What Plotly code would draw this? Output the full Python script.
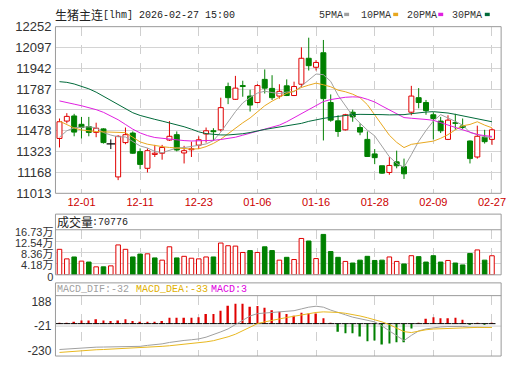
import plotly.graph_objects as go

W, H = 520, 365
RED = "#e00000"
GREEN = "#008000"

# ---------------- data ----------------
x_tick_idx = [3, 11, 19, 27, 35, 43, 51, 59]
x_tick_labels = ["12-01", "12-11", "12-23", "01-06", "01-16", "01-28", "02-09", "02-27"]

open_ = [11421, 11550, 11588, 11526, 11509, 11466, 11492, 11380, 11135, 11390,
         11461, 11323, 11199, 11302, 11311, 11409, 11449, 11313, 11337, 11371,
         11454, 11478, 11485, 11807, 11712, 11814, 11736, 11688, 11860, 11793,
         11736, 11812, 11740, 11824, 12017, 11950, 12058, 11688, 11552, 11485,
         11616, 11502, 11414, 11306, 11218, 11168, 11247, 11211, 11616, 11724,
         11688, 11597, 11550, 11414, 11538, 11514, 11402, 11283, 11430, 11414]
close = [11545, 11585, 11468, 11502, 11466, 11497, 11390, 11380, 11437, 11449,
         11311, 11228, 11330, 11311, 11354, 11437, 11335, 11330, 11344, 11411,
         11478, 11471, 11650, 11724, 11795, 11807, 11669, 11814, 11795, 11724,
         11771, 11740, 11807, 12017, 11962, 11986, 11717, 11557, 11473, 11597,
         11581, 11468, 11287, 11278, 11163, 11220, 11218, 11158, 11736, 11688,
         11628, 11569, 11478, 11557, 11533, 11502, 11271, 11437, 11397, 11485]
high = [11569, 11609, 11604, 11581, 11581, 11538, 11497, 11414, 11445, 11502,
        11473, 11347, 11347, 11373, 11373, 11550, 11473, 11366, 11397, 11437,
        11502, 11497, 11724, 11836, 11886, 11850, 11783, 11824, 11934, 11891,
        11824, 11860, 11843, 12098, 12170, 12003, 12153, 11748, 11593, 11604,
        11635, 11533, 11473, 11342, 11218, 11282, 11330, 11271, 11812, 11795,
        11707, 11616, 11581, 11593, 11604, 11569, 11406, 11516, 11485, 11497]
low = [11354, 11533, 11437, 11421, 11437, 11430, 11383, 11342, 11111, 11378,
       11306, 11192, 11168, 11283, 11263, 11402, 11325, 11235, 11283, 11342,
       11390, 11402, 11473, 11676, 11707, 11731, 11621, 11683, 11755, 11707,
       11717, 11736, 11736, 11800, 11926, 11926, 11406, 11545, 11433, 11480,
       11545, 11445, 11283, 11230, 11158, 11151, 11199, 11120, 11593, 11645,
       11597, 11414, 11461, 11409, 11485, 11492, 11235, 11271, 11383, 11373]

ma5 = [11430, 11478, 11500, 11505, 11508, 11500, 11465, 11446, 11433, 11432,
       11400, 11365, 11350, 11325, 11315, 11335, 11350, 11353, 11360, 11370,
       11380, 11405, 11468, 11545, 11620, 11685, 11725, 11758, 11772, 11762,
       11755, 11766, 11768, 11810, 11858, 11900, 11895, 11845, 11742, 11665,
       11588, 11535, 11482, 11440, 11358, 11285, 11235, 11207, 11300, 11400,
       11480, 11550, 11598, 11575, 11548, 11520, 11465, 11450, 11432, 11430]
ma10 = [11550, 11522, 11498, 11484, 11476, 11472, 11470, 11468, 11468, 11464,
        11430, 11395, 11378, 11368, 11360, 11354, 11349, 11345, 11342, 11344,
        11360, 11384, 11415, 11456, 11500, 11537, 11573, 11618, 11664, 11698,
        11730, 11756, 11773, 11800, 11817, 11832, 11820, 11805, 11780, 11768,
        11750, 11724, 11672, 11598, 11518, 11445, 11392, 11353, 11377, 11386,
        11391, 11401, 11422, 11449, 11485, 11515, 11525, 11545, 11520, 11500]
ma20 = [11700, 11690, 11676, 11664, 11651, 11635, 11615, 11590, 11560, 11525,
        11490, 11462, 11442, 11428, 11421, 11414, 11410, 11405, 11402, 11402,
        11403, 11407, 11413, 11420, 11430, 11445, 11460, 11478, 11492, 11505,
        11520, 11545, 11575, 11610, 11640, 11670, 11695, 11710, 11720, 11727,
        11730, 11728, 11712, 11692, 11662, 11632, 11605, 11576, 11571, 11568,
        11562, 11556, 11538, 11522, 11505, 11488, 11465, 11450, 11442, 11436]
ma30 = [11843, 11838, 11826, 11808, 11790, 11765, 11735, 11705, 11672, 11640,
        11612, 11592, 11575, 11563, 11550, 11537, 11524, 11508, 11490, 11470,
        11457, 11450, 11447, 11447, 11450, 11456, 11465, 11478, 11488, 11497,
        11505, 11513, 11522, 11533, 11548, 11560, 11570, 11578, 11586, 11593,
        11598, 11600, 11601, 11600, 11598, 11596, 11595, 11598, 11605, 11612,
        11617, 11620, 11617, 11610, 11600, 11588, 11576, 11565, 11555, 11545]

volume = [94700, 59200, 66300, 50900, 47400, 29600, 29600, 33200, 111000, 94700,
          66300, 77000, 78000, 62800, 54500, 104000, 62800, 68700, 61600, 59200,
          66300, 66300, 118000, 108000, 106600, 83000, 90000, 83000, 104000, 90000,
          54500, 65000, 56800, 135000, 125500, 60400, 150000, 86400, 65000, 49700,
          43800, 54500, 68700, 53300, 54500, 66300, 49700, 40300, 71000, 67500,
          47400, 71000, 47400, 53300, 43800, 36700, 79300, 92400, 54500, 70776]
vol_up = [1, 1, 0, 1, 0, 1, 0, 1, 1, 1, 0, 0, 1, 0, 1, 1, 0, 1, 1, 1,
          1, 0, 1, 1, 1, 1, 0, 1, 0, 0, 1, 0, 1, 1, 0, 1, 0, 0, 0, 1,
          0, 0, 0, 0, 0, 1, 1, 0, 1, 0, 0, 0, 0, 1, 0, 0, 0, 1, 0, 1]

dif = [-220, -215, -210, -205, -203, -200, -199, -198, -197, -196,
       -195, -193, -185, -180, -172, -160, -150, -143, -137, -130,
       -115, -95, -70, -45, -10, 30, 65, 85, 90, 95,
       100, 105, 110, 125, 140, 148, 140, 115, 92, 75,
       55, 40, 25, 15, -20, -63, -105, -144, -100, -62,
       -45, -35, -28, -25, -22, -24, -30, -30, -33, -32]
dea = [-245, -240, -235, -228, -225, -222, -220, -217, -215, -213,
       -210, -206, -203, -200, -193, -188, -182, -176, -170, -163,
       -155, -145, -130, -112, -90, -60, -30, 0, 15, 30,
       40, 52, 63, 73, 85, 95, 100, 100, 95, 88,
       78, 65, 50, 35, 15, -8, -38, -68, -76, -62,
       -52, -46, -43, -40, -36, -32, -32, -32, -33, -33]
macd = [8, 8, 14, 27, 27, 38, 27, 22, 27, 38,
        22, 11, 11, 11, 22, 49, 49, 49, 49, 54,
        82, 82, 109, 152, 168, 168, 144, 149, 136, 114,
        100, 82, 68, 92, 87, 87, 46, 5, -68, -81,
        -81, -109, -149, -144, -177, -168, -158, -158, -41, 5,
        41, 54, 46, 46, 49, 33, -3, 2, -2, 3]

price_ticks = [11013, 11168, 11323, 11478, 11633, 11787, 11942, 12097, 12252]
vol_ticks = [0, 41825, 83650, 125475, 167300]
vol_tick_labels = ["0", "4.18万", "8.36万", "12.54万", "16.73万"]
macd_ticks = [188, -21, -230]

title_cn = "生猪主连"
title_rest = "[lhm] 2026-02-27 15:00"
ma_names = ["5PMA", "10PMA", "20PMA", "30PMA"]
ma_colors = ["#a0a0a0", "#e8a820", "#e020e0", "#006a3a"]

# ---------------- layout helpers ----------------
def px(x):
    return x / W

def py(y):
    return 1 - y / H

X0, X1 = 56, 506
MAIN_T, MAIN_B = 20.5, 194.3
VOL_BOX_T, VOL_T, VOL_B = 216, 232.3, 279.3
MACD_BOX_T, MACD_T, MACD_B = 287.7, 301, 364
xrange_ = [-0.55, 60.25]

n = len(close)
idx = list(range(n))

fig = go.Figure()

# ---------------- candles ----------------
up = [i for i in idx if close[i] > open_[i]]
dn = [i for i in idx if close[i] < open_[i]]
fl = [i for i in idx if close[i] == open_[i]]


def wick_xy(ids):
    xs, ys = [], []
    for i in ids:
        top = max(open_[i], close[i])
        bot = min(open_[i], close[i])
        xs += [i, i, None, i, i, None]
        ys += [high[i], top, None, bot, low[i], None]
    return xs, ys

for ids, col in [(up, RED), (dn, GREEN), (fl, "#000000")]:
    wx, wy = wick_xy(ids)
    fig.add_trace(go.Scatter(x=wx, y=wy, mode="lines", line=dict(color=col, width=1),
                             hoverinfo="skip", xaxis="x", yaxis="y"))

fig.add_trace(go.Bar(x=up, y=[close[i] - open_[i] for i in up], base=[open_[i] for i in up],
                     width=0.68, marker=dict(color="white", line=dict(color=RED, width=1)),
                     xaxis="x", yaxis="y"))
fig.add_trace(go.Bar(x=dn, y=[open_[i] - close[i] for i in dn], base=[close[i] for i in dn],
                     width=0.68, marker=dict(color=GREEN, line=dict(color=GREEN, width=1)),
                     xaxis="x", yaxis="y"))
fig.add_trace(go.Scatter(x=fl, y=[close[i] for i in fl], mode="markers",
                         marker=dict(symbol="line-ew", size=6, line=dict(color="#000000", width=1.2)),
                         xaxis="x", yaxis="y"))

# ---------------- moving averages ----------------
for vals, col in zip([ma5, ma10, ma20, ma30], ma_colors):
    fig.add_trace(go.Scatter(x=idx, y=vals, mode="lines", line=dict(color=col, width=1),
                             xaxis="x", yaxis="y"))

# ---------------- volume ----------------
vu = [i for i in idx if vol_up[i]]
vd = [i for i in idx if not vol_up[i]]
fig.add_trace(go.Bar(x=vu, y=[volume[i] for i in vu], width=0.62,
                     marker=dict(color="white", line=dict(color=RED, width=1)),
                     xaxis="x2", yaxis="y2"))
fig.add_trace(go.Bar(x=vd, y=[volume[i] for i in vd], width=0.62,
                     marker=dict(color=GREEN, line=dict(color=GREEN, width=1)),
                     xaxis="x2", yaxis="y2"))

# ---------------- MACD ----------------
mp = [i for i in idx if macd[i] >= 0]
mn = [i for i in idx if macd[i] < 0]
fig.add_trace(go.Bar(x=mp, y=[macd[i] for i in mp], width=0.22,
                     marker=dict(color=RED, line=dict(width=0)), xaxis="x3", yaxis="y3"))
fig.add_trace(go.Bar(x=mn, y=[macd[i] for i in mn], width=0.22,
                     marker=dict(color=GREEN, line=dict(width=0)), xaxis="x3", yaxis="y3"))
fig.add_trace(go.Scatter(x=idx, y=[0] * n, mode="markers",
                         marker=dict(symbol="line-ew", size=5, line=dict(color="#000000", width=1)),
                         xaxis="x3", yaxis="y3"))
fig.add_trace(go.Scatter(x=idx, y=dif, mode="lines", line=dict(color="#a0a0a0", width=1),
                         xaxis="x3", yaxis="y3"))
fig.add_trace(go.Scatter(x=idx, y=dea, mode="lines", line=dict(color="#e8b820", width=1),
                         xaxis="x3", yaxis="y3"))

# ---------------- axes ----------------
grid_v = dict(showgrid=True, gridcolor="#cfcfcf", griddash="dash", gridwidth=1,
              tickvals=x_tick_idx, range=xrange_, zeroline=False, showline=False, ticks="")
fig.update_layout(
    xaxis=dict(domain=[px(X0), px(X1)], anchor="y", ticktext=x_tick_labels,
               tickfont=dict(family="Liberation Sans", size=11, color="#cc0000"),
               ticklabelstandoff=1, **grid_v),
    xaxis2=dict(domain=[px(X0), px(X1)], anchor="y2", showticklabels=False, **grid_v),
    xaxis3=dict(domain=[px(X0), px(X1)], anchor="y3", showticklabels=False, **grid_v),
    yaxis=dict(domain=[py(MAIN_B), py(MAIN_T)], range=[price_ticks[0], price_ticks[-1]],
               tickvals=price_ticks, ticktext=[str(v) for v in price_ticks],
               showgrid=True, gridcolor="#d4d4d4", zeroline=False, ticks="",
               tickfont=dict(family="Liberation Sans", size=13, color="#333333"),
               ticklabelstandoff=3),
    yaxis2=dict(domain=[py(VOL_B), py(VOL_T)], range=[0, vol_ticks[-1]],
                tickvals=vol_ticks, ticktext=vol_tick_labels,
                showgrid=True, gridcolor="#d4d4d4", zeroline=False, ticks="",
                tickfont=dict(family="Liberation Sans, Noto Sans CJK SC", size=11, color="#333333"),
                ticklabelstandoff=1, ticklabelshift=2),
    yaxis3=dict(domain=[py(MACD_B), py(MACD_T)], range=[-275.5, 238],
                tickvals=macd_ticks, ticktext=[str(v) for v in macd_ticks],
                showgrid=False, zeroline=False, ticks="",
                tickfont=dict(family="Liberation Sans", size=12, color="#333333"),
                ticklabelstandoff=3),
    barmode="overlay",
    showlegend=False,
    width=W, height=H,
    margin=dict(l=0, r=0, t=0, b=0),
    paper_bgcolor="white", plot_bgcolor="white",
)

# ---------------- shapes ----------------
BORDER = "#9a9a9a"
shapes = []
for t, b in [(MAIN_T, MAIN_B), (VOL_BOX_T, VOL_B), (MACD_BOX_T, MACD_B)]:
    shapes.append(dict(type="rect", xref="paper", yref="paper", x0=px(X0), x1=px(X1),
                       y0=py(b), y1=py(t), line=dict(color=BORDER, width=1), layer="above"))
shapes.append(dict(type="line", xref="paper", yref="paper", x0=px(X0), x1=px(X1),
                   y0=py(VOL_T), y1=py(VOL_T), line=dict(color=BORDER, width=1)))
shapes.append(dict(type="line", xref="paper", yref="paper", x0=px(X0), x1=px(X1),
                   y0=py(MACD_T), y1=py(MACD_T), line=dict(color=BORDER, width=1)))
shapes.append(dict(type="line", xref="paper", yref="y3", x0=px(X0), x1=px(X1),
                   y0=macd_ticks[1], y1=macd_ticks[1], line=dict(color="#d0d0d0", width=1),
                   layer="below"))
# legend swatches
sw_x = [347.5, 397, 442.5, 489.5]
for sx, col in zip(sw_x, ma_colors):
    shapes.append(dict(type="rect", xref="paper", yref="paper", x0=px(sx), x1=px(sx + 5),
                       y0=py(9.5), y1=py(6), fillcolor=col, line=dict(width=0)))
fig.update_layout(shapes=shapes)

# ---------------- annotations ----------------
ann = []

def text(x, y, s, family, size, color):
    ann.append(dict(x=px(x), y=py(y), xref="paper", yref="paper", text=s, showarrow=False,
                    xanchor="left", yanchor="middle", font=dict(family=family, size=size, color=color)))

text(54, 8, title_cn, "Noto Sans CJK SC", 12, "#222222")
text(102, 8.5, title_rest, "Liberation Mono", 10, "#222222")
leg_x = [320.5, 362.5, 408.5, 454.5]
for lx, name in zip(leg_x, ma_names):
    text(lx, 8.5, name, "Liberation Mono", 10, "#333333")
text(56, 224, "成交量", "Noto Sans CJK SC", 12, "#222222")
text(91, 224.5, ":" + str(volume[-1]), "Liberation Mono", 10, "#222222")
text(55.5, 295, "MACD_DIF:" + str(dif[-1]), "Liberation Mono", 10, "#a0a0a0")
text(135, 295, "MACD_DEA:" + str(dea[-1]), "Liberation Mono", 10, "#e0b000")
text(211, 295, "MACD:" + str(macd[-1]), "Liberation Mono", 10, "#e000e0")
fig.update_layout(annotations=ann)

fig.write_html("out.html")
